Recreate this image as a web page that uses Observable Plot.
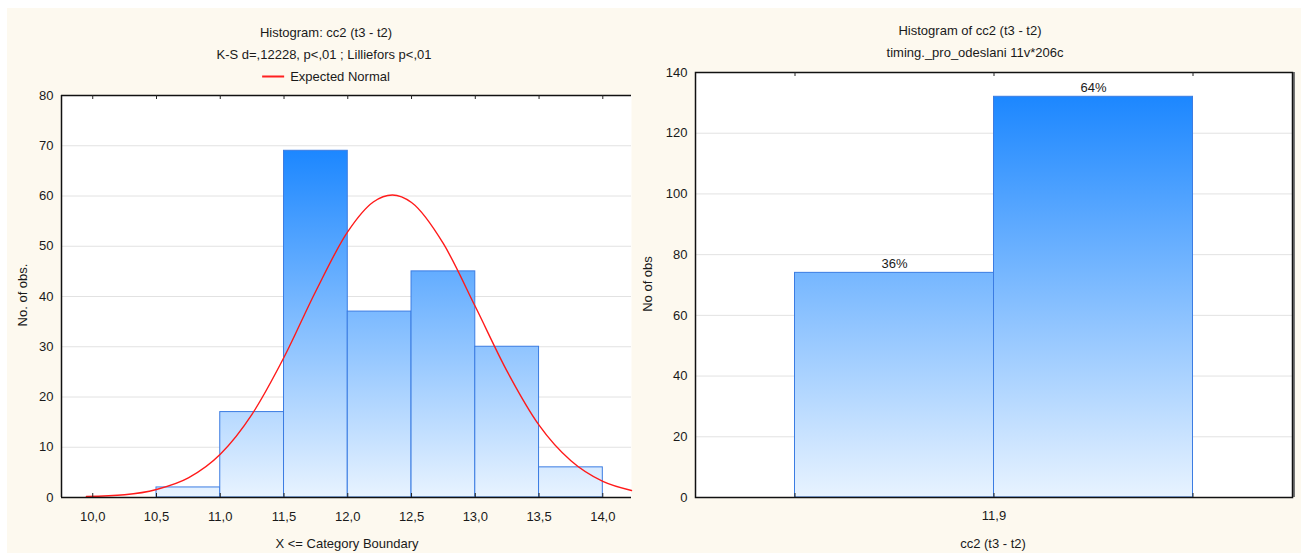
<!DOCTYPE html>
<html>
<head>
<meta charset="utf-8">
<script src="https://cdn.jsdelivr.net/npm/d3@7"></script>
<script src="https://cdn.jsdelivr.net/npm/@observablehq/plot@0.6"></script>
<style>
  html, body { margin: 0; padding: 0; background: #ffffff; }
  #page { position: relative; width: 1314px; height: 553px; overflow: hidden;
          font-family: "Liberation Sans", Arial, sans-serif; color: #1a1a1a; }
  #panel { position: absolute; left: 7px; top: 8px; width: 1294px; height: 545px; background: #fdf9ef; }
  .lbl { position: absolute; white-space: nowrap; font-size: 13px; line-height: 1;
         transform: translate(-50%, -50%); }
  .rot { transform: translate(-50%, -50%) rotate(-90deg); }
  .chart { position: absolute; }
  .legend-line { display: inline-block; width: 22px; height: 0; border-top: 2px solid #ff2020;
                 vertical-align: middle; margin-right: 6px; position: relative; top: -1px; }
</style>
</head>
<body>
<div id="page"><div id="panel"></div></div>
<script>
// ---- Histogram of cc2 (t3 - t2), categories X <= upper boundary ----
const binLower  = [10.0, 10.5, 11.0, 11.5, 12.0, 12.5, 13.0, 13.5];
const binUpper  = [10.5, 11.0, 11.5, 12.0, 12.5, 13.0, 13.5, 14.0];
const binCounts = [0, 2, 17, 69, 37, 45, 30, 6];
const xTickValues = [10.0, 10.5, 11.0, 11.5, 12.0, 12.5, 13.0, 13.5, 14.0];
const leftYTicks  = [0, 10, 20, 30, 40, 50, 60, 70, 80];
const leftGrid    = [10, 20, 30, 40, 50, 60, 70];
const xDomain = [9.755, 14.225];

// expected normal curve, sampled along the category axis
const normalX = [9.95, 10.25, 10.5, 10.75, 11.0, 11.25, 11.5, 11.75, 12.0, 12.2, 12.35,
                 12.5, 12.75, 13.0, 13.25, 13.5, 13.75, 14.0, 14.225];
const normalY = [0.2, 0.55, 1.6, 3.9, 8.6, 16.6, 27.9, 41.1, 52.9, 58.8, 60.2,
                 58.7, 50.5, 38.0, 25.1, 14.4, 7.3, 3.2, 1.4];

// ---- Two-category split at 11,9 ----
const splitCounts = [74, 132];
const splitEdges  = [0, 1, 2];
const splitTickLabels = ["11,9"];
const rightYTicks = [0, 20, 40, 60, 80, 100, 120, 140];
const rightGrid   = [20, 40, 60, 80, 100, 120];

const commaFmt = d => d.toFixed(1).replace(".", ",");
const font = { fontFamily: "Liberation Sans, Arial, sans-serif", fontSize: "13px",
               color: "#1a1a1a", background: "transparent", overflow: "visible" };

// vertical blue gradient anchored to the y scale: deep blue at the tallest bar, pale at zero
function gradientDefs(id, topValue) {
  return (index, scales) => {
    const ns = "http://www.w3.org/2000/svg";
    const defs = document.createElementNS(ns, "defs");
    const g = document.createElementNS(ns, "linearGradient");
    g.setAttribute("id", id);
    g.setAttribute("gradientUnits", "userSpaceOnUse");
    g.setAttribute("x1", 0); g.setAttribute("x2", 0);
    g.setAttribute("y1", scales.y(topValue));
    g.setAttribute("y2", scales.y(0));
    for (const [off, col] of [[0, "#1c87ff"], [1, "#e8f3ff"]]) {
      const s = document.createElementNS(ns, "stop");
      s.setAttribute("offset", off);
      s.setAttribute("stop-color", col);
      g.appendChild(s);
    }
    defs.appendChild(g);
    return defs;
  };
}

const page = document.getElementById("page");
function place(el, left, top) {
  el.classList.add("chart");
  el.style.left = left + "px";
  el.style.top = top + "px";
  page.appendChild(el);
}
function label(text, x, y, rotate = false) {
  const d = document.createElement("div");
  d.className = "lbl" + (rotate ? " rot" : "");
  d.style.left = x + "px";
  d.style.top = y + "px";
  d.textContent = text;
  page.appendChild(d);
  return d;
}

// ---------- left chart ----------
const LW = 641, LH = 545;
const LM = { top: 87, right: 17, bottom: 56, left: 54 };
const leftFrameH = LH - LM.top - LM.bottom;
const bins = binCounts.map((c, i) => ({ lo: binLower[i], hi: binUpper[i], count: c }));
const normal = normalX.map((x, i) => ({ x, y: normalY[i] }));

const left = Plot.plot({
  width: LW, height: LH,
  marginTop: LM.top, marginRight: LM.right, marginBottom: LM.bottom, marginLeft: LM.left,
  style: font,
  x: { domain: xDomain },
  y: { domain: [0, 80] },
  marks: [
    gradientDefs("gradLeft", d3.max(binCounts)),
    Plot.frame({ fill: "#ffffff", stroke: null }),
    Plot.ruleY(leftGrid, { stroke: "#e2e2e2", strokeWidth: 1 }),
    Plot.rectY(bins, { x1: "lo", x2: "hi", y: "count", fill: "url(#gradLeft)",
                       stroke: "#3b7ce2", strokeWidth: 1 }),
    Plot.line(normal, { x: "x", y: "y", curve: "monotone-x", stroke: "#ff1a1a", strokeWidth: 1.4 }),
    Plot.ruleY([80], { stroke: "#111", strokeWidth: 1.5 }),
    Plot.ruleY([0], { stroke: "#111", strokeWidth: 1.5 }),
    Plot.ruleX([xDomain[0]], { stroke: "#111", strokeWidth: 1.5 }),
    Plot.tickX(xTickValues, { x: d => d, insetBottom: leftFrameH - 4, stroke: "#222" }),
    Plot.tickX(xTickValues, { x: d => d, insetTop: leftFrameH - 4, stroke: "#222" }),
    Plot.axisY({ ticks: leftYTicks, tickSize: 0, tickPadding: 8, label: null }),
    Plot.axisX({ ticks: xTickValues, tickFormat: commaFmt, tickSize: 0, tickPadding: 14, label: null })
  ]
});
place(left, 7, 8);

label("Histogram: cc2 (t3 - t2)", 326, 32);
label("K-S d=,12228, p<,01 ; Lilliefors p<,01", 324, 54);
const leg = label("", 326, 76);
leg.innerHTML = '<span class="legend-line"></span>Expected Normal';
label("No. of obs.", 22, 295, true);
label("X <= Category Boundary", 347, 543);

// ---------- right chart ----------
const RW = 653, RH = 545;
const RM = { top: 64, right: 9, bottom: 56, left: 47 };
const rightFrameH = RH - RM.top - RM.bottom;
const total = d3.sum(splitCounts);
const split = splitCounts.map((c, i) => ({ lo: splitEdges[i], hi: splitEdges[i + 1], count: c }));

const right = Plot.plot({
  width: RW, height: RH,
  marginTop: RM.top, marginRight: RM.right, marginBottom: RM.bottom, marginLeft: RM.left,
  style: font,
  x: { domain: [-0.5, 2.5] },
  y: { domain: [0, 140] },
  marks: [
    gradientDefs("gradRight", d3.max(splitCounts)),
    Plot.frame({ fill: "#ffffff", stroke: null }),
    Plot.ruleY(rightGrid, { stroke: "#e2e2e2", strokeWidth: 1 }),
    Plot.rectY(split, { x1: "lo", x2: "hi", y: "count", fill: "url(#gradRight)",
                        stroke: "#3b7ce2", strokeWidth: 1 }),
    Plot.text(split, { x: d => (d.lo + d.hi) / 2, y: "count",
                       text: d => Math.round(d.count / total * 100) + "%",
                       dy: -9, fontSize: 13, fill: "#1a1a1a" }),
    Plot.ruleX([2.5], { stroke: "#777", strokeWidth: 3, dx: 1 }),
    Plot.frame({ stroke: "#111", strokeWidth: 1.5 }),
    Plot.tickX(splitEdges, { x: d => d, insetBottom: rightFrameH - 4, stroke: "#222" }),
    Plot.tickX(splitEdges, { x: d => d, insetTop: rightFrameH - 4, stroke: "#222" }),
    Plot.axisY({ ticks: rightYTicks, tickSize: 0, tickPadding: 8, label: null }),
    Plot.axisX({ ticks: [splitEdges[1]], tickFormat: () => splitTickLabels[0],
                 tickSize: 0, tickPadding: 13, label: null })
  ]
});
place(right, 648, 8);

label("Histogram of cc2 (t3 - t2)", 970, 30);
label("timing._pro_odeslani 11v*206c", 975, 52);
label("No of obs", 647, 284, true);
label("cc2 (t3 - t2)", 993, 543);
</script>
</body>
</html>
